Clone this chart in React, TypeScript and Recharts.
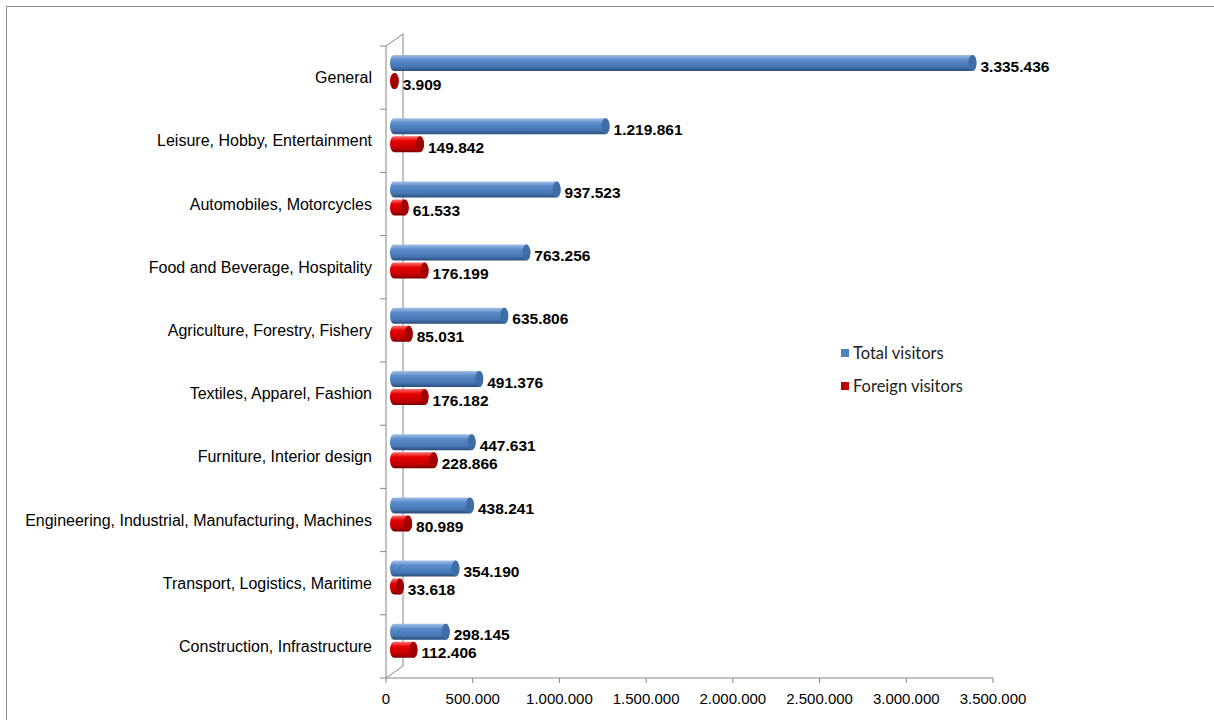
import { BarChart, Bar, XAxis, YAxis, Legend, LabelList, usePlotArea } from 'recharts'

const categories = [
  'General',
  'Leisure, Hobby, Entertainment',
  'Automobiles, Motorcycles',
  'Food and Beverage, Hospitality',
  'Agriculture, Forestry,  Fishery',
  'Textiles, Apparel, Fashion',
  'Furniture, Interior design ',
  'Engineering, Industrial, Manufacturing, Machines',
  'Transport, Logistics,  Maritime',
  'Construction, Infrastructure',
]
const totalVisitors = [3335436, 1219861, 937523, 763256, 635806, 491376, 447631, 438241, 354190, 298145]
const foreignVisitors = [3909, 149842, 61533, 176199, 85031, 176182, 228866, 80989, 33618, 112406]
const xTicks = [0, 500000, 1000000, 1500000, 2000000, 2500000, 3000000, 3500000]

const data = categories.map((name, i) => ({
  name,
  total: totalVisitors[i],
  foreign: foreignVisitors[i],
}))

const DX = 8
const DY = -6
const RX = 4
const FONT = '"Liberation Sans", Arial, sans-serif'
const AXIS = '#868686'

const fmt = (v: number) => String(v).replace(/\B(?=(\d{3})+(?!\d))/g, '.')

const cylinder = (grad: string, cap: string) => (props: any) => {
  const { x, y, width, height } = props
  const X = x + DX
  const Y = y + DY
  const r = height / 2
  const w = Math.max(width, 0)
  const d = `M${X},${Y} L${X + w},${Y} A${RX},${r} 0 0 1 ${X + w},${Y + height} L${X},${Y + height} A${RX},${r} 0 0 1 ${X},${Y} Z`
  return (
    <g>
      <path d={d} fill={`url(#${grad})`} />
      <ellipse cx={X + w} cy={Y + r} rx={RX} ry={r} fill={cap} />
    </g>
  )
}

const valueLabel = (props: any) => {
  const { x, y, width, height, value } = props
  return (
    <text x={x + DX + Math.max(width, 0) + RX + 4} y={y + DY + height / 2 + 3} dominantBaseline="central"
      fontFamily={FONT} fontWeight="bold" fontSize={15.5} fill="#000">
      {fmt(value)}
    </text>
  )
}

const Wall = () => {
  const p = usePlotArea()
  if (!p) return null
  const { x, y, height } = p
  const bx = x + 17
  const ticks = categories.map((_, i) => y + (height * i) / categories.length)
  ticks.push(y + height)
  return (
    <g stroke={AXIS} strokeWidth={1} fill="none">
      <line x1={bx} y1={y - 12} x2={bx} y2={y + height - 12} />
      <line x1={x} y1={y} x2={bx} y2={y - 12} />
      <line x1={x} y1={y + height} x2={bx} y2={y + height - 12} />
      <line x1={x} y1={y} x2={x} y2={y + height} />
      {ticks.map((t, i) => (
        <line key={i} x1={x - 6} y1={t} x2={x} y2={t} />
      ))}
    </g>
  )
}

const legendContent = () => (
  <div style={{ fontFamily: 'Lato, "Open Sans", sans-serif', fontSize: 16.5, color: '#222' }}>
    {[
      { label: 'Total visitors', color: '#4f81bd' },
      { label: 'Foreign visitors', color: '#c00000' },
    ].map((it) => (
      <div key={it.label} style={{ display: 'flex', alignItems: 'center', height: 33 }}>
        <span style={{ width: 8, height: 8, background: it.color, marginRight: 4, display: 'inline-block' }} />
        {it.label}
      </div>
    ))}
  </div>
)

export default function App() {
  return (
    <div style={{ position: 'absolute', left: 0, top: 0, width: 1214, height: 720, background: '#fff', overflow: 'hidden' }}>
      <div style={{ position: 'absolute', left: 6, top: 6, width: 1220, height: 730, borderLeft: '1px solid #8c8c8c', borderTop: '1px solid #8c8c8c' }} />
      <BarChart
        width={1214}
        height={720}
        data={data}
        layout="vertical"
        margin={{ top: 46, right: 221, bottom: 0, left: 0 }}
        barSize={16}
        barGap={2}
        style={{ position: 'absolute', left: 0, top: 0 }}
      >
        <defs>
          <linearGradient id="gBlue" x1="0" y1="0" x2="0" y2="1">
            <stop offset="0" stopColor="#a3c0e6" />
            <stop offset="0.3" stopColor="#5a8ccb" />
            <stop offset="0.75" stopColor="#4676b2" />
            <stop offset="1" stopColor="#2a4c7a" />
          </linearGradient>
          <linearGradient id="gRed" x1="0" y1="0" x2="0" y2="1">
            <stop offset="0" stopColor="#ff7070" />
            <stop offset="0.3" stopColor="#e60000" />
            <stop offset="0.75" stopColor="#c40000" />
            <stop offset="1" stopColor="#780000" />
          </linearGradient>
        </defs>
        <XAxis
          type="number"
          domain={[0, 3500000]}
          ticks={xTicks}
          tickFormatter={fmt}
          height={42}
          stroke={AXIS}
          tickSize={5}
          tickMargin={10}
          tick={{ fill: '#000', fontFamily: FONT, fontSize: 15 }}
        />
        <YAxis
          type="category"
          dataKey="name"
          width={386}
          axisLine={false}
          tickLine={false}
          tickMargin={8}
          interval={0}
          tick={{ fill: '#000', fontFamily: FONT, fontSize: 16 }}
        />
        <Legend
          layout="vertical"
          verticalAlign="middle"
          align="center"
          content={legendContent}
          wrapperStyle={{ left: 841, top: 336, width: 170 }}
        />
        <Bar dataKey="total" name="Total visitors" fill="#4f81bd" shape={cylinder('gBlue', '#3f6da6')} isAnimationActive={false}>
          <LabelList dataKey="total" content={valueLabel} />
        </Bar>
        <Bar dataKey="foreign" name="Foreign visitors" fill="#c00000" shape={cylinder('gRed', '#a00000')} isAnimationActive={false}>
          <LabelList dataKey="foreign" content={valueLabel} />
        </Bar>
        <Wall />
      </BarChart>
    </div>
  )
}
